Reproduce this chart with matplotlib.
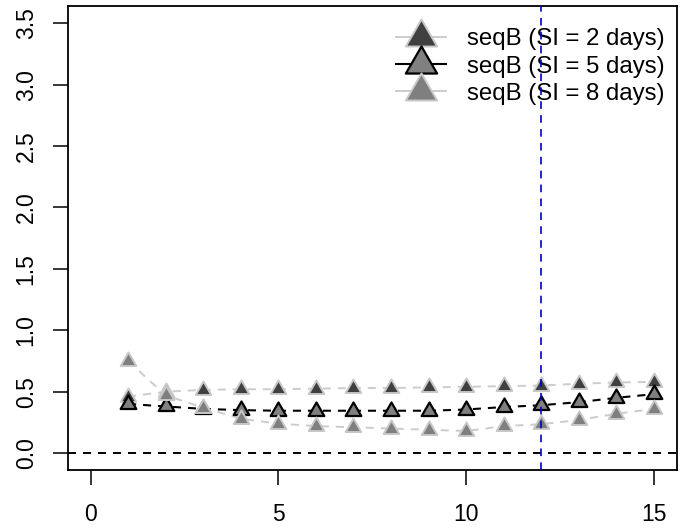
import matplotlib
matplotlib.use("Agg")
import matplotlib.pyplot as plt
from matplotlib.path import Path
from matplotlib.lines import Line2D

plt.rcParams['font.family'] = ['Liberation Sans', 'DejaVu Sans']
plt.rcParams['lines.scale_dashes'] = False

# window index and effective reproduction estimates for each serial interval
window = list(range(1, 16))
si2 = [0.46, 0.50, 0.515, 0.52, 0.52, 0.525, 0.53, 0.53, 0.535, 0.54, 0.545, 0.55, 0.565, 0.575, 0.58]
si5 = [0.40, 0.38, 0.36, 0.35, 0.345, 0.345, 0.345, 0.345, 0.345, 0.355, 0.375, 0.39, 0.415, 0.45, 0.48]
si8 = [0.75, 0.47, 0.37, 0.28, 0.24, 0.22, 0.21, 0.20, 0.19, 0.18, 0.22, 0.235, 0.27, 0.32, 0.36]
labels = ['seqB (SI = 2 days)', 'seqB (SI = 5 days)', 'seqB (SI = 8 days)']
xticks = [0, 5, 10, 15]
yticks = [0.0, 0.5, 1.0, 1.5, 2.0, 2.5, 3.0, 3.5]
cutoff = 12

# R-style triangle (pch 24), centred on its centroid
tri = Path([(0, 1), (-0.866, -0.5), (0.866, -0.5), (0, 1)],
           [Path.MOVETO, Path.LINETO, Path.LINETO, Path.CLOSEPOLY])

fig = plt.figure(figsize=(6.85, 5.31), dpi=100)
ax = fig.add_axes([0.0993, 0.1143, 0.8883, 0.8744])

dash = (0, (5.8, 5.0))
styles = [
    dict(color='#cccccc', mfc='#404040', mec='#c8c8c8', lw=1.4, mew=1.4),
    dict(color='black', mfc='#808080', mec='black', lw=1.5, mew=1.6),
    dict(color='#cccccc', mfc='#7f7f7f', mec='#c8c8c8', lw=1.4, mew=1.4),
]
series = [si2, si5, si8]
order = [0, 2, 1]
handles = [None] * 3
for i in order:
    st = styles[i]
    ax.plot(window, series[i], linestyle=dash, color=st['color'], lw=st['lw'], zorder=2 + i)
    ax.plot(window, series[i], linestyle='none', marker=tri, ms=13, mfc=st['mfc'],
            mec=st['mec'], mew=st['mew'], zorder=3 + i)
    handles[i] = Line2D([], [], color=st['color'], lw=st['lw'], marker=tri, ms=13,
                        mfc=st['mfc'], mec=st['mec'], mew=st['mew'])

ax.axhline(0, color='black', lw=1.4, linestyle=dash, zorder=1)
ax.axvline(cutoff, color='#0000cc', lw=1.2, linestyle=(0, (5.5, 4.5)), zorder=6)

ax.set_xlim(-0.6, 15.6)
ax.set_ylim(-0.14, 3.64)
ax.set_xticks(xticks)
ax.set_yticks(yticks)
ax.set_xticklabels([str(t) for t in xticks], fontsize=16.5)
ax.set_yticklabels(['%.1f' % t for t in yticks], fontsize=16.5, rotation=90, va='center')
ax.tick_params(length=10.8, width=1.1, pad=11)
ax.tick_params(axis='x', pad=13)
for s in ax.spines.values():
    s.set_linewidth(1.3)

ax.legend(handles, labels, loc='upper right', bbox_to_anchor=(1.0, 0.978), frameon=False,
          fontsize=17.3, markerscale=2.0, handlelength=2.1, handletextpad=0.85,
          labelspacing=0.22, borderaxespad=0.3, borderpad=0.2)

fig.savefig('out.png', dpi=100)
